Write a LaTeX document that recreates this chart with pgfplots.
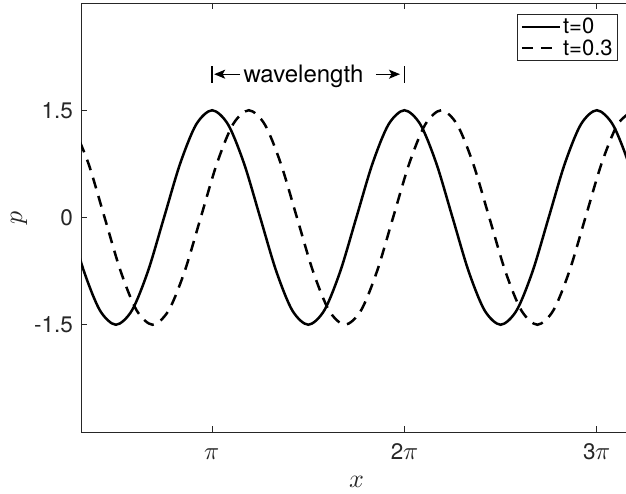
\documentclass[border=0pt]{standalone}
\usepackage{pgfplots}
\pgfplotsset{compat=1.18}
\usepackage{fontspec}
\usepackage{unicode-math}
\setmainfont{TeX Gyre Heros}
\setmathfont{Latin Modern Math}
\usetikzlibrary{arrows.meta}
\definecolor{axgray}{rgb}{0.15,0.15,0.15}
\newcommand{\mpi}{{\fontsize{25}{30}\selectfont$\pi$}}

\begin{document}
\begin{tikzpicture}
\useasboundingbox (0,0) rectangle (626pt,494pt);
\begin{axis}[
  at={(81pt,62pt)}, anchor=south west,
  scale only axis, width=551pt, height=429pt,
  xmin=1, xmax=10, ymin=-3, ymax=3,
  axis line style={axgray, line width=0.8pt},
  tick style={axgray, line width=0.8pt},
  major tick length=6pt, tick align=inside,
  xtick={3.14159,6.28319,9.42478},
  xticklabels={\mpi,2\mpi,3\mpi},
  ytick={-1.5,0,1.5},
  yticklabels={-1.5,0,1.5},
  ticklabel style={font=\fontsize{22.5}{27}\selectfont, text=axgray},
  yticklabel style={inner sep=0pt, xshift=-8pt},
  xticklabel style={inner sep=0pt, text height=16pt, yshift=-11pt},
  xlabel={$x$}, ylabel={$p$},
  label style={font=\fontsize{26}{30}\selectfont, text=axgray, inner sep=0pt},
  xlabel style={at={(axis description cs:0.5,-0.1166)}, anchor=center},
  ylabel style={at={(axis description cs:-0.1125,0.5)}, anchor=center},
  legend style={at={(0.9746,0.9744)}, anchor=north east, draw=axgray,
    line width=0.8pt, fill=white, font=\fontsize{22}{24}\selectfont,
    text=black, inner xsep=3pt, inner ysep=2pt, row sep=0pt},
  legend image code/.code={\draw[#1] (0pt,0pt) -- (38pt,0pt);},
  legend cell align=left,
]
% t = 0
\addplot[black, line width=2.5pt, smooth] coordinates {
(0.7854,0) (1.0472,-0.75) (1.3090,-1.299) (1.5708,-1.5) (1.8326,-1.299)
(2.0944,-0.75) (2.3562,0) (2.6180,0.75) (2.8798,1.299) (3.1416,1.5)
(3.4034,1.299) (3.6652,0.75) (3.9270,0) (4.1888,-0.75) (4.4506,-1.299)
(4.7124,-1.5) (4.9742,-1.299) (5.2360,-0.75) (5.4978,0) (5.7596,0.75)
(6.0214,1.299) (6.2832,1.5) (6.5450,1.299) (6.8068,0.75) (7.0686,0)
(7.3304,-0.75) (7.5922,-1.299) (7.8540,-1.5) (8.1158,-1.299) (8.3776,-0.75)
(8.6394,0) (8.9012,0.75) (9.1630,1.299) (9.4248,1.5) (9.6866,1.299)
(9.9484,0.75) (10.2102,0)
};
\addlegendentry{t=0}
% t = 0.3
\addplot[black, line width=2.5pt, smooth, dash pattern=on 11pt off 8pt] coordinates {
(0.8618,1.299) (1.1236,0.75) (1.3854,0) (1.6472,-0.75) (1.9090,-1.299)
(2.1708,-1.5) (2.4326,-1.299) (2.6944,-0.75) (2.9562,0) (3.2180,0.75)
(3.4798,1.299) (3.7416,1.5) (4.0034,1.299) (4.2652,0.75) (4.5270,0)
(4.7888,-0.75) (5.0506,-1.299) (5.3124,-1.5) (5.5742,-1.299) (5.8360,-0.75)
(6.0978,0) (6.3596,0.75) (6.6214,1.299) (6.8832,1.5) (7.1450,1.299)
(7.4068,0.75) (7.6686,0) (7.9304,-0.75) (8.1922,-1.299) (8.4540,-1.5)
(8.7158,-1.299) (8.9776,-0.75) (9.2394,0) (9.5012,0.75) (9.7630,1.299)
(10.0248,1.5)
};
\addlegendentry{t=0.3}
% wavelength marker between two crests
\draw[line width=1.8pt] (axis cs:3.1416,1.885) -- (axis cs:3.1416,2.123);
\draw[line width=1.8pt] (axis cs:6.2832,1.885) -- (axis cs:6.2832,2.123);
\draw[line width=1.3pt, -{Stealth[length=11pt,width=9pt,inset=2.5pt]}]
  (axis cs:3.60,2.004) -- (axis cs:3.175,2.004);
\draw[line width=1.3pt, -{Stealth[length=11pt,width=9pt,inset=2.5pt]}]
  (axis cs:5.818,2.004) -- (axis cs:6.211,2.004);
\node[anchor=base, font=\fontsize{24}{28}\selectfont, inner sep=0pt]
  at (axis cs:4.634,1.895) {wavelength};
\end{axis}
\end{tikzpicture}
\end{document}
